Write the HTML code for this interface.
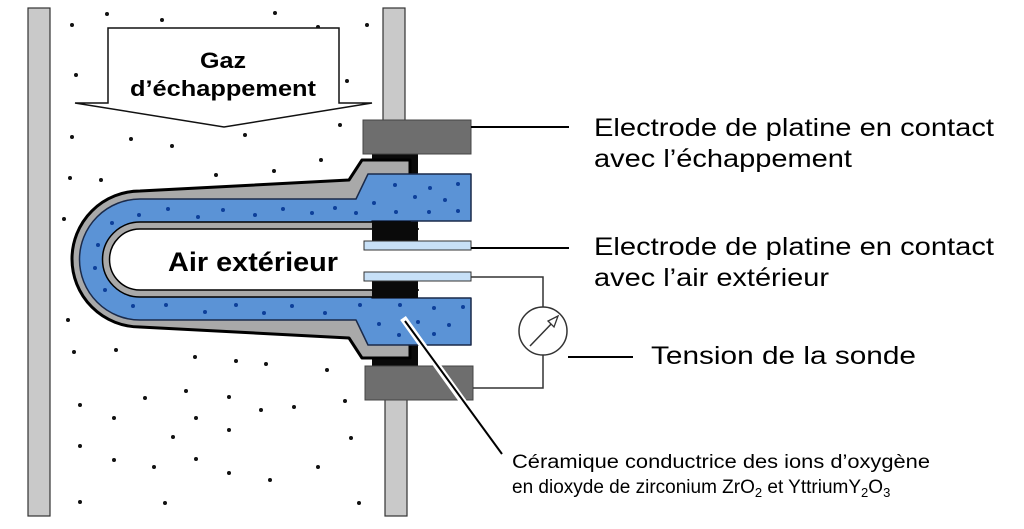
<!DOCTYPE html>
<html><head><meta charset="utf-8"><style>
html,body{margin:0;padding:0;background:#fff;width:1024px;height:529px;overflow:hidden}
svg{display:block}
text{font-family:"Liberation Sans",Arial,sans-serif;fill:#000}
</style></head><body>
<svg width="1024" height="529" viewBox="0 0 1024 529" xmlns="http://www.w3.org/2000/svg">
<!-- walls -->
<rect x="28" y="8" width="22" height="508" fill="#c9c9c9" stroke="#333" stroke-width="1.2"/>
<rect x="383" y="8" width="22" height="114" fill="#c9c9c9" stroke="#333" stroke-width="1.2"/>
<rect x="385" y="398" width="22" height="118" fill="#c9c9c9" stroke="#333" stroke-width="1.2"/>
<!-- gas dots -->
<g fill="#111">
<circle cx="107" cy="14" r="2"/><circle cx="162" cy="20" r="2"/><circle cx="275" cy="13" r="2"/><circle cx="72" cy="25" r="2"/><circle cx="318" cy="27" r="2"/><circle cx="367" cy="25" r="2"/>
<circle cx="76" cy="75" r="2"/><circle cx="347" cy="81" r="2"/>
<circle cx="340" cy="125" r="2"/><circle cx="72" cy="137" r="2"/><circle cx="131" cy="139" r="2"/><circle cx="245" cy="135" r="2"/><circle cx="172" cy="146" r="2"/><circle cx="321" cy="160" r="2"/>
<circle cx="70" cy="178" r="2"/><circle cx="101" cy="180" r="2"/><circle cx="216" cy="175" r="2"/><circle cx="274" cy="171" r="2"/><circle cx="64" cy="219" r="2"/>
<circle cx="68" cy="320" r="2"/><circle cx="74" cy="352" r="2"/><circle cx="116" cy="350" r="2"/><circle cx="195" cy="357" r="2"/><circle cx="236" cy="361" r="2"/><circle cx="266" cy="364" r="2"/><circle cx="327" cy="370" r="2"/>
<circle cx="186" cy="391" r="2"/><circle cx="145" cy="398" r="2"/><circle cx="229" cy="397" r="2"/><circle cx="80" cy="405" r="2"/><circle cx="294" cy="407" r="2"/><circle cx="261" cy="410" r="2"/><circle cx="345" cy="401" r="2"/>
<circle cx="114" cy="418" r="2"/><circle cx="196" cy="418" r="2"/><circle cx="229" cy="430" r="2"/><circle cx="173" cy="437" r="2"/><circle cx="80" cy="446" r="2"/><circle cx="351" cy="438" r="2"/>
<circle cx="114" cy="460" r="2"/><circle cx="196" cy="459" r="2"/><circle cx="154" cy="467" r="2"/><circle cx="318" cy="467" r="2"/><circle cx="229" cy="473" r="2"/><circle cx="270" cy="480" r="2"/>
<circle cx="80" cy="502" r="2"/><circle cx="165" cy="503" r="2"/><circle cx="359" cy="503" r="2"/>
</g>
<!-- arrow -->
<polygon points="108,28 339,28 339,103 372,103 224,127 75,103 108,103" fill="#fff" stroke="#111" stroke-width="1.5"/>
<text x="223" y="68" font-size="22" font-weight="bold" text-anchor="middle" textLength="46" lengthAdjust="spacingAndGlyphs">Gaz</text>
<text x="223" y="96" font-size="22" font-weight="bold" text-anchor="middle" textLength="186" lengthAdjust="spacingAndGlyphs">d’échappement</text>
<!-- black gasket -->
<rect x="372" y="152" width="46" height="216" fill="#0a0a0a"/>
<!-- outer gray shell -->
<path d="M410,160 L362,160 L349,180 L140,191 A68,68 0 0 0 140,327 L349,338 L362,358 L410,358 Z" fill="#a9a9a9" stroke="#000" stroke-width="3" stroke-linejoin="round"/>
<!-- blue ceramic -->
<path d="M471,174 L368,174 L356,199 L140,199 A60,60 0 0 0 140,320 L356,320 L368,345 L471,345 L471,298 L372,298 L372,221 L471,221 Z" fill="#5b93d6" stroke="#1a2a4a" stroke-width="1.5" stroke-linejoin="round"/>
<!-- inner gray -->
<path d="M410,222 L140,222 A37.5,37.5 0 0 0 140,297 L410,297 Z" fill="#a9a9a9" stroke="#000" stroke-width="1.5"/>
<!-- air hole -->
<path d="M420,229 L140,229 A30.5,30.5 0 0 0 140,290 L420,290 Z" fill="#fff" stroke="#000" stroke-width="1.5"/>
<rect x="372" y="222" width="46" height="19" fill="#0a0a0a"/>
<rect x="372" y="281" width="46" height="17" fill="#0a0a0a"/>
<rect x="419" y="228" width="4" height="63" fill="#fff"/>
<!-- blue dots -->
<g fill="#0d3f9a">
<circle cx="395" cy="185" r="2"/><circle cx="430" cy="188" r="2"/><circle cx="458" cy="184" r="2"/><circle cx="415" cy="197" r="2"/><circle cx="445" cy="200" r="2"/><circle cx="374" cy="203" r="2"/>
<circle cx="168" cy="209" r="2"/><circle cx="223" cy="210" r="2"/><circle cx="283" cy="209" r="2"/><circle cx="335" cy="208" r="2"/><circle cx="139" cy="215" r="2"/><circle cx="198" cy="217" r="2"/><circle cx="255" cy="215" r="2"/><circle cx="312" cy="213" r="2"/><circle cx="356" cy="213" r="2"/><circle cx="396" cy="212" r="2"/><circle cx="429" cy="212" r="2"/><circle cx="458" cy="211" r="2"/>
<circle cx="112" cy="223" r="2"/><circle cx="98" cy="245" r="2"/><circle cx="95" cy="268" r="2"/><circle cx="105" cy="290" r="2"/>
<circle cx="133" cy="306" r="2"/><circle cx="166" cy="305" r="2"/><circle cx="205" cy="312" r="2"/><circle cx="236" cy="305" r="2"/><circle cx="264" cy="313" r="2"/><circle cx="292" cy="306" r="2"/><circle cx="325" cy="313" r="2"/><circle cx="360" cy="305" r="2"/>
<circle cx="400" cy="305" r="2"/><circle cx="434" cy="308" r="2"/><circle cx="463" cy="307" r="2"/><circle cx="379" cy="324" r="2"/><circle cx="418" cy="322" r="2"/><circle cx="449" cy="325" r="2"/><circle cx="399" cy="335" r="2"/><circle cx="434" cy="334" r="2"/>
</g>
<text x="168" y="271" font-size="27" font-weight="bold" textLength="170" lengthAdjust="spacingAndGlyphs">Air extérieur</text>
<!-- electrode strips -->
<rect x="364" y="241" width="107" height="9" fill="#c7e0f7" stroke="#333" stroke-width="1"/>
<rect x="364" y="272" width="107" height="9" fill="#c7e0f7" stroke="#333" stroke-width="1"/>
<!-- plugs -->
<rect x="363" y="120" width="108" height="34" fill="#6e6e6e" stroke="#444" stroke-width="1"/>
<rect x="365" y="366" width="108" height="34" fill="#6e6e6e" stroke="#444" stroke-width="1"/>
<!-- circuit -->
<g fill="none" stroke="#333" stroke-width="1.5">
<polyline points="471,277 543,277 543,307"/>
<polyline points="543,355 543,388 473,388"/>
<circle cx="543" cy="331" r="24" fill="#fff"/>
<line x1="530" y1="346" x2="555" y2="320"/>
</g>
<polygon points="558,316 548,321 554,327" fill="#fff" stroke="#333" stroke-width="1.3"/>
<!-- label lines -->
<g stroke="#000" stroke-width="2">
<line x1="471" y1="127" x2="569" y2="127"/>
<line x1="471" y1="248" x2="569" y2="248"/>
<line x1="568" y1="357" x2="633" y2="357"/>
</g>
<line x1="403" y1="318" x2="500" y2="453" stroke="#fff" stroke-width="7"/>
<line x1="405" y1="321" x2="502" y2="454" stroke="#000" stroke-width="2"/>
<!-- labels -->
<text x="594" y="136" font-size="25" textLength="400" lengthAdjust="spacingAndGlyphs">Electrode de platine en contact</text>
<text x="594" y="167" font-size="25" textLength="258" lengthAdjust="spacingAndGlyphs">avec l’échappement</text>
<text x="594" y="255" font-size="25" textLength="400" lengthAdjust="spacingAndGlyphs">Electrode de platine en contact</text>
<text x="594" y="286" font-size="25" textLength="235" lengthAdjust="spacingAndGlyphs">avec l’air extérieur</text>
<text x="651" y="364" font-size="25" textLength="265" lengthAdjust="spacingAndGlyphs">Tension de la sonde</text>
<text x="512" y="468" font-size="19" textLength="418" lengthAdjust="spacingAndGlyphs">Céramique conductrice des ions d’oxygène</text>
<text x="512" y="493" font-size="19">en dioxyde de zirconium ZrO<tspan font-size="13" dy="4">2</tspan><tspan dy="-4"> et Yttrium</tspan>Y<tspan font-size="13" dy="4">2</tspan><tspan dy="-4">O</tspan><tspan font-size="13" dy="4">3</tspan></text>
</svg>
</body></html>
